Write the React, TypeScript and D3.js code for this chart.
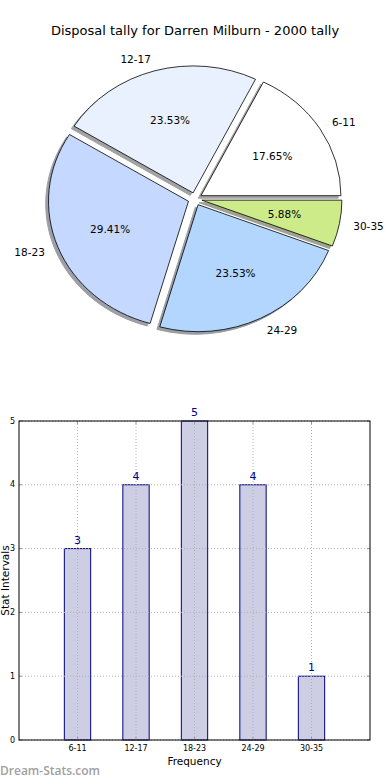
import React from "react";
import * as d3 from "d3";

// chart data
const categories = ["6-11", "12-17", "18-23", "24-29", "30-35"];
const counts = [3, 4, 5, 4, 1];
const sliceColors = ["#ffffff", "#eaf1fe", "#c5d8ff", "#b3d6ff", "#cdeb88"];
const yTicks = [0, 1, 2, 3, 4, 5];
const title = "Disposal tally for Darren Milburn - 2000 tally";

const W = 390;
const H = 780;
const FONT = "DejaVu Sans, sans-serif";

const PieChart = () => {
  const cx = 195;
  const cy = 199;
  const rx = 140;
  const ry = 127;
  const explode = 0.05;
  const total = d3.sum(counts);

  // matplotlib style: start at 3 o'clock, go counterclockwise
  const pie = d3
    .pie<number>()
    .sort(null)
    .startAngle(Math.PI / 2)
    .endAngle(Math.PI / 2 - 2 * Math.PI);
  const arcs = pie(counts);
  const arc = d3.arc<d3.PieArcDatum<number>>().innerRadius(0).outerRadius(1);

  const slices = arcs.map((a, i) => {
    const mid = (a.startAngle + a.endAngle) / 2;
    const ux = Math.sin(mid);
    const uy = -Math.cos(mid);
    const ox = cx + explode * rx * ux;
    const oy = cy + explode * ry * uy;
    return { a, i, ux, uy, ox, oy };
  });

  const shadowColor = (c: string) => {
    const rgb = d3.rgb(c);
    return d3.rgb(rgb.r * 0.3, rgb.g * 0.3, rgb.b * 0.3).formatHex();
  };

  return (
    <g>
      <text x={W / 2} y={35} textAnchor="middle" fontFamily={FONT} fontSize={13} fill="#000">
        {title}
      </text>
      {slices.map((s) => (
        <path
          key={"sh" + s.i}
          d={arc(s.a) || ""}
          transform={`translate(${s.ox - 0.02 * rx},${s.oy + 0.02 * ry}) scale(${rx},${ry})`}
          fill={shadowColor(sliceColors[s.i])}
          stroke={shadowColor(sliceColors[s.i])}
          strokeWidth={1}
          vectorEffect="non-scaling-stroke"
          opacity={0.5}
        />
      ))}
      {slices.map((s) => (
        <path
          key={"w" + s.i}
          d={arc(s.a) || ""}
          transform={`translate(${s.ox},${s.oy}) scale(${rx},${ry})`}
          fill={sliceColors[s.i]}
          stroke="#000"
          strokeWidth={0.8}
          vectorEffect="non-scaling-stroke"
        />
      ))}
      {slices.map((s) => (
        <text
          key={"l" + s.i}
          x={s.ox + 1.1 * rx * s.ux}
          y={s.oy + 1.1 * ry * s.uy}
          textAnchor={s.ux > 0 ? "start" : "end"}
          dominantBaseline="central"
          fontFamily={FONT}
          fontSize={10.5}
          fill="#000"
        >
          {categories[s.i]}
        </text>
      ))}
      {slices.map((s) => (
        <text
          key={"p" + s.i}
          x={s.ox + 0.6 * rx * s.ux}
          y={s.oy + 0.6 * ry * s.uy}
          textAnchor="middle"
          dominantBaseline="central"
          fontFamily={FONT}
          fontSize={10.5}
          fill="#000"
        >
          {((counts[s.i] / total) * 100).toFixed(2) + "%"}
        </text>
      ))}
    </g>
  );
};

const BarChart = () => {
  const left = 19;
  const right = 370;
  const top = 421;
  const bottom = 740;
  const x = d3.scaleLinear().domain([-1, 5]).range([left, right]);
  const y = d3.scaleLinear().domain([0, 5]).range([bottom, top]);
  const bw = x(0.45) - x(0);

  return (
    <g>
      {counts.map((v, i) => (
        <rect
          key={"b" + i}
          x={x(i) - bw / 2}
          y={y(v)}
          width={bw}
          height={y(0) - y(v)}
          fill="#cdcde3"
          stroke="#000080"
          strokeWidth={1}
        />
      ))}
      {/* grid, drawn over bars like the reference */}
      {yTicks.map((t) => (
        <line
          key={"gy" + t}
          x1={left}
          x2={right}
          y1={y(t)}
          y2={y(t)}
          stroke="#b0b0b0"
          strokeDasharray="1,2"
        />
      ))}
      {categories.map((c, i) => (
        <line
          key={"gx" + c}
          x1={x(i)}
          x2={x(i)}
          y1={top}
          y2={bottom}
          stroke="#b0b0b0"
          strokeDasharray="1,2"
        />
      ))}
      {yTicks.map((t) => (
        <g key={"ty" + t}>
          <line x1={left} x2={left + 3} y1={y(t)} y2={y(t)} stroke="#999" />
          <line x1={right - 3} x2={right} y1={y(t)} y2={y(t)} stroke="#999" />
          <text
            x={15}
            y={y(t)}
            textAnchor="end"
            dominantBaseline="central"
            fontFamily={FONT}
            fontSize={8}
            fill="#000"
          >
            {t}
          </text>
        </g>
      ))}
      {categories.map((c, i) => (
        <g key={"tx" + c}>
          <line x1={x(i)} x2={x(i)} y1={bottom} y2={bottom - 3} stroke="#999" />
          <line x1={x(i)} x2={x(i)} y1={top} y2={top + 3} stroke="#999" />
          <text
            x={x(i)}
            y={751}
            textAnchor="middle"
            fontFamily={FONT}
            fontSize={8}
            fill="#000"
          >
            {c}
          </text>
        </g>
      ))}
      {counts.map((v, i) => (
        <text
          key={"v" + i}
          x={x(i)}
          y={y(v) - 5}
          textAnchor="middle"
          fontFamily={FONT}
          fontSize={11}
          fill="#00008b"
        >
          {v}
        </text>
      ))}
      <rect x={left} y={top} width={right - left} height={bottom - top} fill="none" stroke="#000" strokeWidth={1} />
      <text x={(left + right) / 2} y={765} textAnchor="middle" fontFamily={FONT} fontSize={10.5} fill="#000">
        Frequency
      </text>
      <text
        transform={`translate(9,${(top + bottom) / 2}) rotate(-90)`}
        textAnchor="middle"
        fontFamily={FONT}
        fontSize={10.5}
        fill="#000"
      >
        Stat Intervals
      </text>
      <text x={0} y={775} fontFamily="Open Sans, sans-serif" fontWeight={600} fontSize={12} fill="#a0a0a0">
        Dream-Stats.com
      </text>
    </g>
  );
};

const App = () => (
  <svg
    width={W}
    height={H}
    style={{ position: "absolute", left: 0, top: 0, background: "#fff" }}
  >
    <PieChart />
    <BarChart />
  </svg>
);

export default App;
